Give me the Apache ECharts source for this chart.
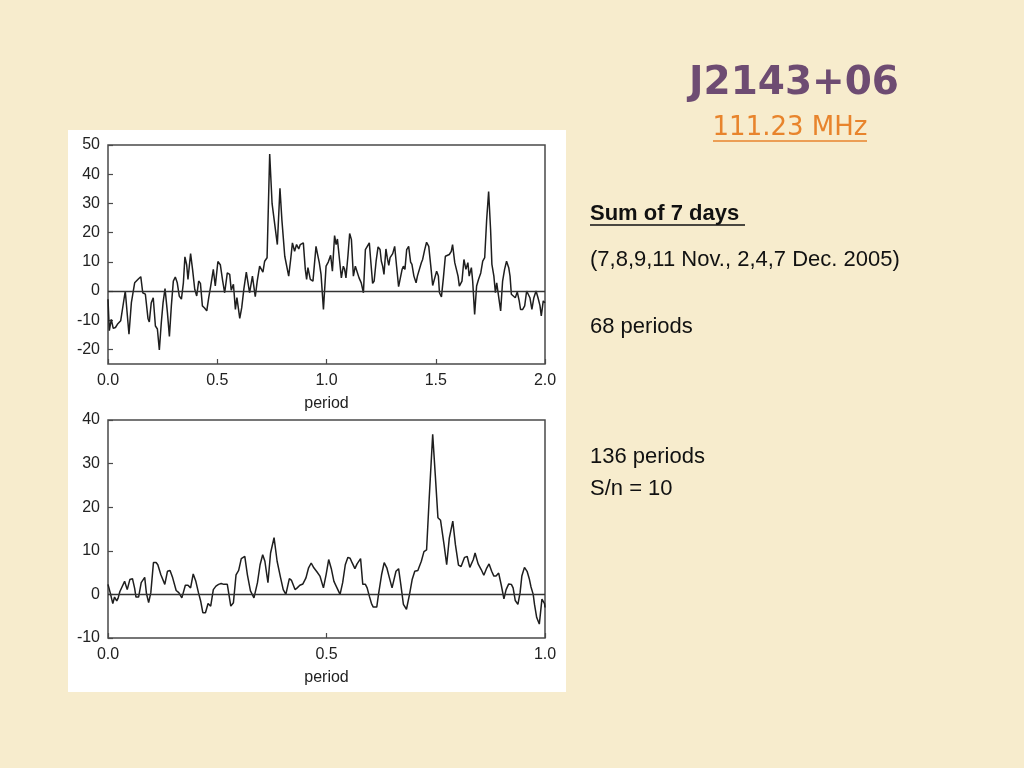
<!DOCTYPE html>
<html>
<head>
<meta charset="utf-8">
<script src="https://cdn.jsdelivr.net/npm/echarts@6/dist/echarts.min.js"></script>
<style>
html,body{margin:0;padding:0;background:#F7ECCD;}
#chart{width:1024px;height:768px;}
</style>
</head>
<body>
<div id="chart"></div>
<script>
// ---- Data ----
const topPeriod = [0.000,0.006,0.015,0.024,0.034,0.043,0.049,0.058,0.066,0.079,0.096,0.107,0.122,0.131,0.140,0.150,0.159,0.171,0.183,0.189,0.198,0.207,0.217,0.226,0.235,0.244,0.252,0.261,0.272,0.281,0.290,0.299,0.308,0.317,0.326,0.336,0.345,0.352,0.360,0.366,0.378,0.387,0.397,0.406,0.415,0.423,0.432,0.442,0.452,0.461,0.470,0.482,0.491,0.503,0.514,0.525,0.534,0.546,0.557,0.564,0.574,0.583,0.590,0.603,0.612,0.622,0.633,0.648,0.661,0.674,0.683,0.694,0.702,0.709,0.717,0.728,0.740,0.751,0.760,0.775,0.787,0.796,0.809,0.816,0.827,0.836,0.844,0.854,0.863,0.873,0.880,0.885,0.894,0.903,0.909,0.915,0.926,0.938,0.952,0.958,0.967,0.975,0.986,0.998,1.008,1.019,1.027,1.037,1.044,1.050,1.057,1.068,1.077,1.083,1.089,1.098,1.106,1.114,1.123,1.132,1.141,1.149,1.159,1.169,1.178,1.187,1.196,1.202,1.211,1.218,1.227,1.236,1.245,1.251,1.257,1.263,1.272,1.278,1.285,1.291,1.297,1.303,1.312,1.321,1.330,1.336,1.346,1.352,1.359,1.367,1.376,1.385,1.391,1.400,1.410,1.416,1.425,1.434,1.440,1.449,1.458,1.468,1.477,1.486,1.495,1.504,1.512,1.517,1.526,1.535,1.544,1.553,1.562,1.571,1.577,1.587,1.596,1.602,1.608,1.620,1.629,1.638,1.647,1.653,1.663,1.669,1.678,1.687,1.696,1.706,1.715,1.724,1.733,1.742,1.751,1.757,1.766,1.773,1.779,1.788,1.797,1.806,1.815,1.824,1.834,1.840,1.846,1.855,1.864,1.873,1.882,1.888,1.898,1.907,1.916,1.925,1.931,1.940,1.949,1.959,1.968,1.977,1.983,1.992,2.000];
const topValue = [-2.8,-13.6,-9.7,-12.8,-12.5,-11.4,-10.8,-10.2,-10.6,0,-14.8,-4,2.8,2.6,4.2,4.9,-0.6,-1.1,-9.4,-10.6,-4,-2.3,-12,-13,-20.2,-10.8,-4,0.8,-7.4,-15.6,-5,3.4,4.8,2.8,-1.7,-2.8,2.8,11.7,9,4,12.8,7.4,0.6,-1.7,3.4,2.6,-5.1,-5.8,-6.8,-2.3,1.7,7.4,1.7,10.1,9,3.4,-0.6,6.2,5.7,0.3,2.3,-6.3,-2.3,-9.4,-5.7,0.8,6.5,-0.6,5.1,-1.9,3.4,8.5,8.5,6.5,10.2,11.4,46.9,29.9,29.5,15.9,35.2,24.2,11.9,11.9,5.1,10.8,16.5,13.6,15.9,14.4,15.9,15.3,16.5,7.4,4,8,4,3.4,15.3,13,9.7,5.7,-6.3,8.5,9.9,12.2,6.8,19,15.9,17.8,18.2,4.5,8.5,7.4,4.5,11.9,19.7,17.6,5.1,8.5,9.1,4.5,2.8,-0.6,14.2,14.8,16.5,10.8,2.6,3.4,10.2,15.1,14.2,10.2,8.5,5.7,14.4,11.4,8.8,11.4,11,12.8,15.3,8.3,1.5,1.7,7.4,8.5,7.4,14.2,15.3,9.9,9.1,5.1,2.8,5.1,5.1,9.7,10.8,14,16.7,15.3,8.8,1.9,1.7,6.8,5.1,-0.6,-2,4.5,11.9,12.2,12.5,13.6,15.9,9.7,9.7,5.1,1.7,3.4,10.8,7.4,9.7,5.1,8,3.4,-8,1.7,4,6.2,10.2,11.4,24.4,34.1,21,9.1,5.1,-0.6,2.8,2.8,-6.8,3.4,7.4,10.2,8,5.1,-1.1,-1.1,-2.3,-0.3,-3.4,-6.3,-6.3,-5.1,0,-0.6,-2.3,-6.3,-2.3,0,-2.3,-5,-8.5,-3.4,-4];

const bottomPeriod = [0.000,0.005,0.011,0.015,0.020,0.023,0.027,0.032,0.038,0.044,0.050,0.056,0.061,0.064,0.070,0.076,0.084,0.088,0.093,0.098,0.104,0.110,0.114,0.121,0.130,0.136,0.142,0.148,0.156,0.162,0.169,0.177,0.183,0.189,0.195,0.201,0.207,0.212,0.217,0.223,0.229,0.235,0.241,0.247,0.253,0.259,0.265,0.273,0.281,0.287,0.293,0.299,0.305,0.313,0.319,0.326,0.334,0.342,0.348,0.354,0.359,0.366,0.372,0.380,0.387,0.395,0.401,0.407,0.415,0.420,0.428,0.433,0.439,0.446,0.453,0.459,0.465,0.471,0.478,0.485,0.493,0.499,0.505,0.511,0.517,0.524,0.531,0.537,0.543,0.549,0.554,0.558,0.565,0.570,0.578,0.583,0.589,0.593,0.598,0.603,0.607,0.615,0.619,0.626,0.632,0.638,0.644,0.650,0.659,0.665,0.670,0.676,0.683,0.690,0.696,0.702,0.709,0.717,0.723,0.729,0.735,0.743,0.749,0.755,0.761,0.769,0.775,0.781,0.789,0.795,0.802,0.808,0.816,0.822,0.828,0.836,0.840,0.847,0.854,0.860,0.866,0.872,0.878,0.883,0.888,0.894,0.900,0.906,0.911,0.917,0.923,0.927,0.932,0.938,0.943,0.947,0.953,0.959,0.964,0.968,0.973,0.976,0.981,0.987,0.993,0.999,1.000];
const bottomValue = [2.3,0.4,-2.1,-0.6,-1.5,-0.9,0.6,1.7,3,1.1,3.4,3.6,1.4,-0.6,-0.6,2.7,3.9,0.2,-1.9,0.4,7.3,7.3,6.8,4.5,2.3,5.3,5.5,3.8,0.9,0.4,-0.8,2.1,2.1,1.5,4.7,3,0.4,-1.5,-4.2,-4.2,-2.1,-2.7,1.1,1.9,2.3,2.5,2.3,2.3,-2.7,-1.9,4.5,5.5,8.2,8.7,4.5,0.8,-0.8,2.7,6.8,9.1,7.6,2.7,9.5,13,7.6,3.8,1.1,0,3.6,3.2,1.1,1.5,2.1,2.4,3.8,6.1,7.2,6.1,5.2,4.2,1.5,4.5,8,5.9,3,1.5,0,2.7,6.8,8.5,8.3,7.4,5.9,7,8.2,2.3,2.3,1.5,-0.4,-2.1,-2.9,-2.9,0,4.5,7.3,6.1,3.8,1.5,5.3,5.9,2.3,-2.3,-3.4,0,3.4,5.3,5.5,7.6,9.8,10.2,22,36.7,27.3,17.6,17,11.4,6.8,12.9,16.8,11.4,6.7,6.4,8.5,8.7,6.2,8,9.5,7,5.7,4.4,5.9,7,5.3,4.2,4.2,4.9,2.1,-1,1.1,2.4,2.3,1.5,-1.4,-2.3,0.4,4.2,6.2,5.3,3.6,1.7,0,-2.3,-5.3,-6.8,-1.1,-2.1,-3];

const topXTicks = [0, 0.5, 1.0, 1.5, 2.0];
const topYTicks = [-20, -10, 0, 10, 20, 30, 40, 50];
const bottomXTicks = [0, 0.5, 1.0];
const bottomYTicks = [-10, 0, 10, 20, 30, 40];

const titleText = 'J2143+06';
const subtitleText = '111.23 MHz';
const notes = ['Sum of 7 days', '(7,8,9,11 Nov., 2,4,7 Dec. 2005)', '68 periods', '136 periods', 'S/n = 10'];

// ---- Build ----
const pairs = (xs, ys) => xs.map((x, i) => [x, ys[i]]);
const labelFont = '"Liberation Sans", Arial, Helvetica, sans-serif';
const frame = '#4a4a4a';

function xAxisDef(gi, max, ticks) {
  return {
    gridIndex: gi, type: 'value', min: 0, max: max, interval: 0.5,
    axisLine: {show: false, onZero: false},
    axisTick: {show: true, inside: true, length: 5, lineStyle: {color: frame, width: 1.2}, customValues: ticks},
    axisLabel: {fontSize: 16, color: '#222', fontFamily: labelFont, margin: 9, customValues: ticks,
      formatter: v => Number(v).toFixed(1)},
    splitLine: {show: false},
    name: 'period', nameLocation: 'middle', nameGap: 32,
    nameTextStyle: {fontSize: 16, color: '#222', fontFamily: labelFont}
  };
}
function yAxisDef(gi, min, max, ticks) {
  return {
    gridIndex: gi, type: 'value', min: min, max: max,
    axisLine: {show: false, onZero: false},
    axisTick: {show: true, inside: true, length: 5, lineStyle: {color: frame, width: 1.2}, customValues: ticks},
    axisLabel: {fontSize: 16, color: '#222', fontFamily: labelFont, margin: 8, customValues: ticks},
    splitLine: {show: false}
  };
}
const zeroLine = {
  silent: true, symbol: ['none', 'none'], label: {show: false},
  lineStyle: {color: '#333', width: 1.3, type: 'solid'},
  data: [{yAxis: 0}]
};

const noteFont = '22px ' + labelFont;

const option = {
  backgroundColor: '#F7ECCD',
  animation: false,
  grid: [
    {left: 108, top: 145, width: 437, height: 219, show: true, borderColor: frame, borderWidth: 1.5, backgroundColor: 'rgba(0,0,0,0)'},
    {left: 108, top: 420, width: 437, height: 218, show: true, borderColor: frame, borderWidth: 1.5, backgroundColor: 'rgba(0,0,0,0)'}
  ],
  xAxis: [xAxisDef(0, 2, topXTicks), xAxisDef(1, 1, bottomXTicks)],
  yAxis: [yAxisDef(0, -25, 50, topYTicks), yAxisDef(1, -10, 40, bottomYTicks)],
  series: [
    {type: 'line', xAxisIndex: 0, yAxisIndex: 0, data: pairs(topPeriod, topValue), showSymbol: false,
      lineStyle: {color: '#1e1e1e', width: 1.5}, markLine: zeroLine, silent: true},
    {type: 'line', xAxisIndex: 1, yAxisIndex: 1, data: pairs(bottomPeriod, bottomValue), showSymbol: false,
      lineStyle: {color: '#1e1e1e', width: 1.5}, markLine: zeroLine, silent: true}
  ],
  graphic: [
    {type: 'rect', z: -100, shape: {x: 68, y: 130, width: 498, height: 562}, style: {fill: '#ffffff'}, silent: true},
    {type: 'text', x: 794, y: 84, style: {text: titleText, fill: '#6E4C72', font: 'bold 39px "DejaVu Sans", sans-serif',
      align: 'center', verticalAlign: 'middle', shadowColor: 'rgba(40,30,30,0.55)', shadowOffsetX: 2, shadowOffsetY: 2, shadowBlur: 1}},
    {type: 'text', x: 790, y: 128, style: {text: subtitleText, fill: '#E8842C', font: '26px "DejaVu Sans", sans-serif',
      align: 'center', verticalAlign: 'middle', shadowColor: 'rgba(80,40,20,0.5)', shadowOffsetX: 1, shadowOffsetY: 1, shadowBlur: 1}},
    {type: 'line', shape: {x1: 713, y1: 141, x2: 867, y2: 141}, style: {stroke: '#E8842C', lineWidth: 1.5}},
    {type: 'text', x: 590, y: 214, style: {text: notes[0], fill: '#111', font: 'bold 22px ' + labelFont, verticalAlign: 'middle'}},
    {type: 'line', shape: {x1: 590, y1: 225, x2: 745, y2: 225}, style: {stroke: '#111', lineWidth: 1.3}},
    {type: 'text', x: 590, y: 260, style: {text: notes[1], fill: '#111', font: noteFont, verticalAlign: 'middle'}},
    {type: 'text', x: 590, y: 327, style: {text: notes[2], fill: '#111', font: noteFont, verticalAlign: 'middle'}},
    {type: 'text', x: 590, y: 457, style: {text: notes[3], fill: '#111', font: noteFont, verticalAlign: 'middle'}},
    {type: 'text', x: 590, y: 489, style: {text: notes[4], fill: '#111', font: noteFont, verticalAlign: 'middle'}}
  ]
};

const chart = echarts.init(document.getElementById('chart'), null, {renderer: 'canvas'});
chart.setOption(option);
</script>
</body>
</html>
